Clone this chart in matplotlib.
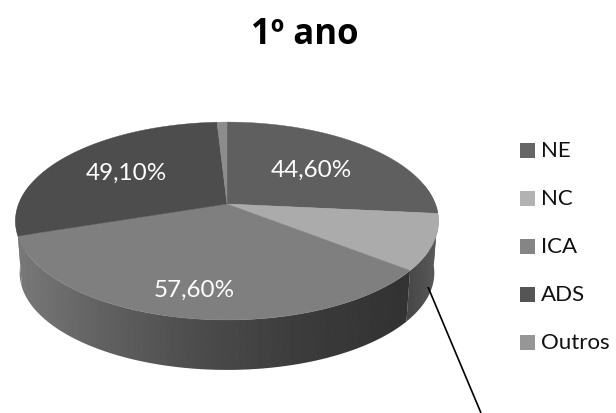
import numpy as np
import matplotlib
matplotlib.use('Agg')
import matplotlib.pyplot as plt
from matplotlib.patches import Polygon, Rectangle

plt.rcParams['font.family'] = ['Lato', 'DejaVu Sans']

# dados (as partes nao somam 100%)
categorias = ['NE', 'NC', 'ICA', 'ADS', 'Outros']
valores = [44.6, 15.3, 57.6, 49.1, 1.5]
rotulados = ['NE', 'ICA', 'ADS']

cores_topo = ['#5f5f5f', '#ababab', '#7f7f7f', '#4d4d4d', '#8c8c8c']
cores_legenda = ['#666666', '#b2b2b2', '#858585', '#555555', '#969696']
raio_rotulo = {'NE': 0.58, 'ICA': 0.78, 'ADS': 0.62}

# parametros da perspectiva em pixels
CX, CY = 227, 205
A, C, K = 208.4, 96, 0.172
ESCALA_BASE, CY_BASE = 0.98, 257.3


def projeta(ang, r=1.0, escala=1.0, cy=CY):
    # angulo em graus, sentido horario a partir do topo
    t = np.radians(ang)
    u, v = r * np.sin(t), r * np.cos(t)
    den = 1 + K * v
    return CX + escala * A * u / den, cy - escala * C * v / den


fig = plt.figure(figsize=(6.16, 4.14), dpi=100)
ax = fig.add_axes([0, 0, 1, 1])

limites = np.concatenate([[0], np.cumsum(valores)]) / sum(valores) * 360

# parede lateral: gradiente horizontal recortado pela fatia
xx = np.arange(0, 617)
tons = {
    'NC': np.interp(xx, [410, 433], [0x48, 0x58]),
    'ICA': np.interp(xx, [20, 100, 200, 300, 400], [0x78, 0x62, 0x4c, 0x3c, 0x33]),
    'ADS': np.full(xx.shape, 0x78),
    'NE': np.full(xx.shape, 0x58),
}
for i, nome in enumerate(categorias):
    if nome not in tons:
        continue
    angs = np.linspace(limites[i], limites[i + 1], 200)
    angs = angs[np.cos(np.radians(angs)) < 0.2]
    if len(angs) < 2:
        continue
    xt, yt = projeta(angs)
    xb, yb = projeta(angs[::-1], escala=ESCALA_BASE, cy=CY_BASE)
    forma = Polygon(np.c_[np.r_[xt, xb], np.r_[yt, yb]], closed=True,
                    transform=ax.transData, fc='none', ec='none')
    ax.add_patch(forma)
    im = ax.imshow(tons[nome][None, :], cmap='gray', vmin=0, vmax=255,
                   extent=(0, 616, 414, 0), aspect='auto', interpolation='bilinear')
    im.set_clip_path(forma)

ax.set_xlim(0, 616)
ax.set_ylim(414, 0)
ax.axis('off')

# topo
for i, nome in enumerate(categorias):
    angs = np.linspace(limites[i], limites[i + 1], 120)
    xs, ys = projeta(angs)
    ax.fill(np.r_[CX, xs], np.r_[CY, ys], color=cores_topo[i], lw=0.3)

# rotulos
for i, nome in enumerate(categorias):
    if nome not in rotulados:
        continue
    meio = (limites[i] + limites[i + 1]) / 2
    x, y = projeta(meio, r=raio_rotulo[nome])
    txt = f'{valores[i]:.2f}%'.replace('.', ',')
    ax.text(x, y, txt, color='white', fontsize=17.5, ha='center', va='center')

# legenda
for i, nome in enumerate(categorias):
    yc = 151.5 + 48 * i
    ax.add_patch(Rectangle((520, yc - 7.5), 15, 15, color=cores_legenda[i], lw=0))
    ax.text(541, yc, nome, color='#111111', fontsize=16, ha='left', va='center')

ax.text(305, 35, '1º ano', fontsize=25, fontweight='bold', color='black',
        family='Open Sans', ha='center', va='center')

# linha preta que sai da fatia
ax.plot([428, 481], [288, 414], color='black', lw=1.2, solid_capstyle='butt')

fig.savefig('out.png', dpi=100)
